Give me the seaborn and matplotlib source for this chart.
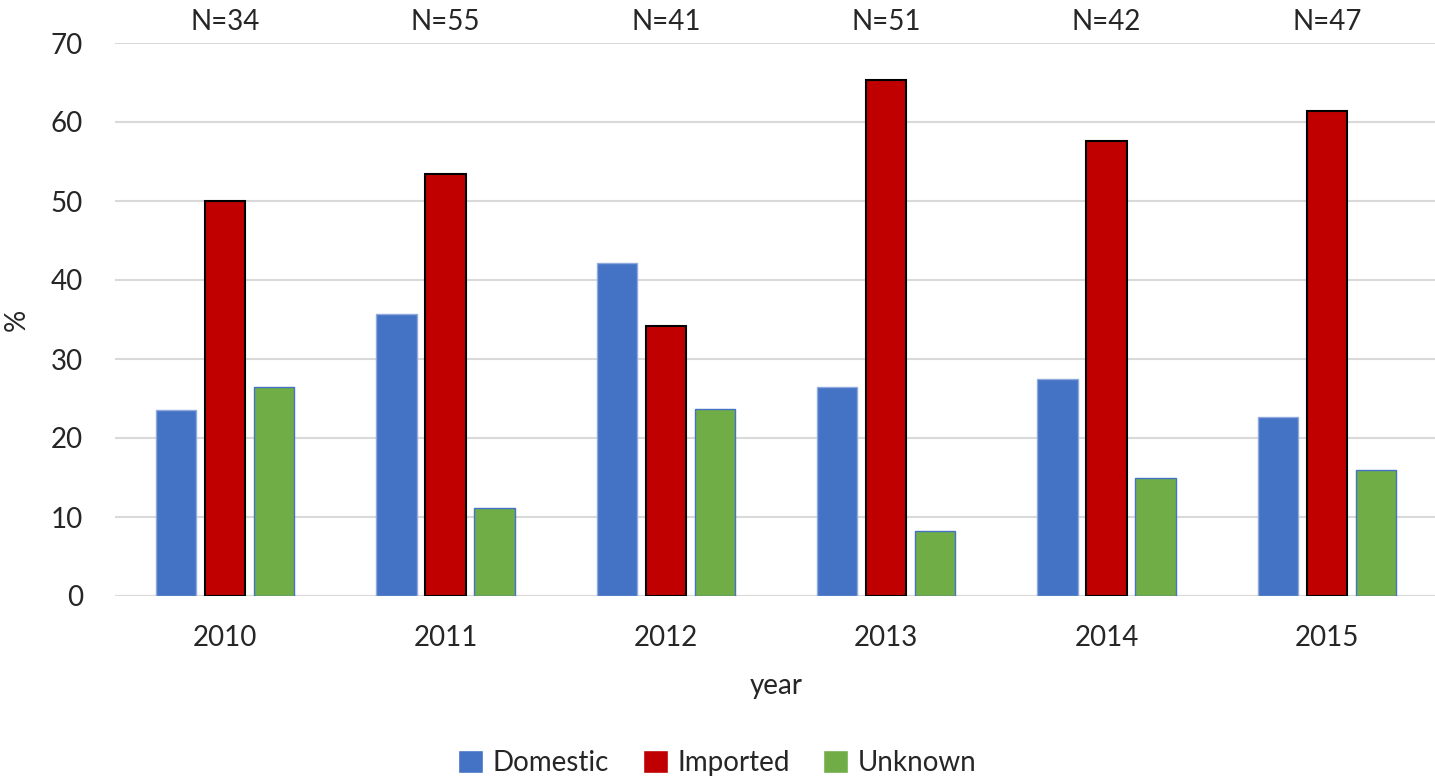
import matplotlib
matplotlib.use("Agg")
import matplotlib.pyplot as plt
import matplotlib.transforms as mtransforms
import seaborn as sns
import pandas as pd

years = ["2010", "2011", "2012", "2013", "2014", "2015"]
n_counts = [34, 55, 41, 51, 42, 47]
domestic = [23.5, 35.7, 42.1, 26.5, 27.5, 22.7]
imported = [50.0, 53.4, 34.2, 65.3, 57.6, 61.4]
unknown = [26.5, 11.1, 23.7, 8.2, 15.0, 15.9]
series = ["Domestic", "Imported", "Unknown"]

colors = {"Domestic": "#4472C4", "Imported": "#C00000", "Unknown": "#70AD47"}
edges = {"Domestic": "#8FAADC", "Imported": "#000000", "Unknown": "#4472C4"}

rows = []
for s, vals in zip(series, [domestic, imported, unknown]):
    for y, v in zip(years, vals):
        rows.append({"year": y, "series": s, "value": v})
df = pd.DataFrame(rows)

sns.set_theme(style="white")
plt.rcParams["font.family"] = ["Lato", "DejaVu Sans"]

fig = plt.figure(figsize=(14.35, 7.79), dpi=100)
ax = fig.add_axes([115 / 1435, 183 / 779, 1322 / 1435, 553 / 779])

sns.barplot(data=df, x="year", y="value", hue="series", order=years,
            hue_order=series, palette=colors, width=0.667, gap=0.18,
            saturation=1, ax=ax, zorder=3)

for cont, s in zip(ax.containers, series):
    for p in cont.patches:
        p.set_edgecolor(edges[s])
        p.set_linewidth(1.5 if s == "Imported" else 1.0)

ax.set_xlim(-0.5, 5.5)
ax.set_ylim(0, 70)
ax.set_yticks(range(0, 71, 10))
ax.yaxis.grid(True, color="#D9D9D9", linewidth=1.5, zorder=0)
ax.set_axisbelow(True)
for sp in ax.spines.values():
    sp.set_visible(False)
ax.axhline(0, color="#D9D9D9", linewidth=1.5, zorder=1)

ax.tick_params(axis="y", length=0, pad=23, labelsize=20)
ax.tick_params(axis="x", length=0, pad=21, labelsize=20)
ax.set_xlabel("year", fontsize=20, labelpad=16)
ax.set_ylabel("%", fontsize=20)
ax.yaxis.set_label_coords((30 - 115) / 1322, 0.5)

trans = mtransforms.blended_transform_factory(ax.transData, ax.transAxes)
for i, n in enumerate(n_counts):
    ax.text(i, 1.0 + 21 / 553, f"N={n}", transform=trans, ha="center",
            va="center", fontsize=20)

leg = ax.get_legend()
if leg is not None:
    leg.remove()
handles, labels = ax.get_legend_handles_labels()
fig.legend(handles, labels, loc="center", bbox_to_anchor=(0.5, 16 / 779),
           ncol=3, frameon=False, fontsize=20, handlelength=0.9,
           handleheight=0.9, handletextpad=0.35, columnspacing=1.2)

fig.savefig("out.png", dpi=100)
